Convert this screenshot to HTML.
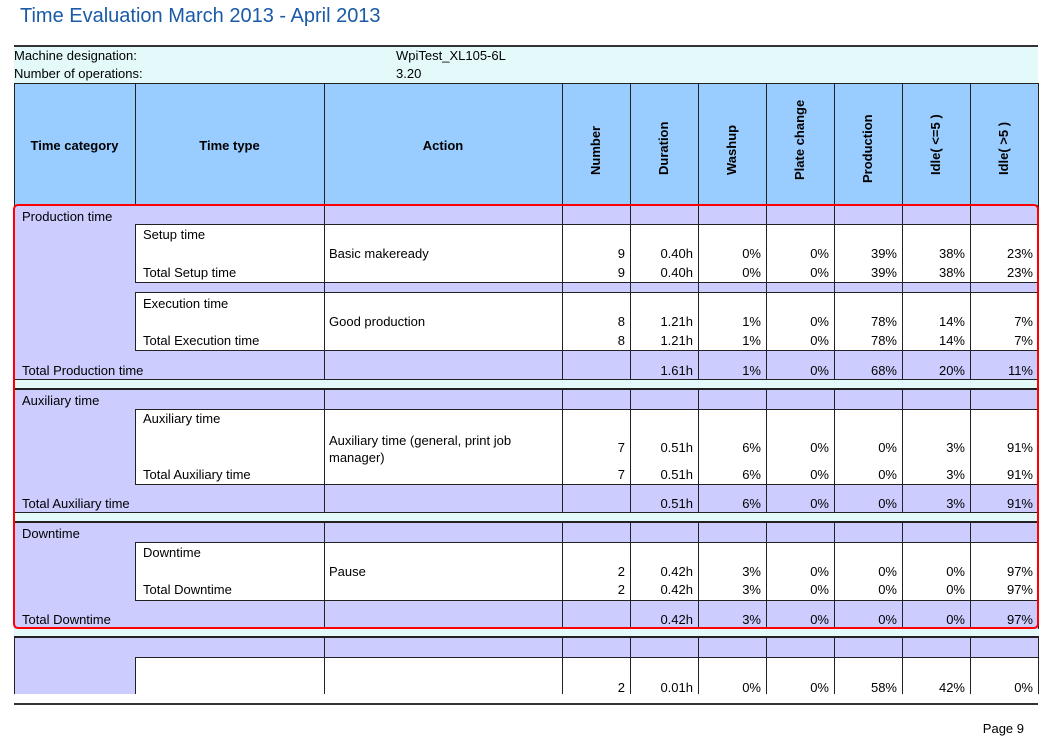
<!DOCTYPE html>
<html><head><meta charset="utf-8"><style>
body{margin:0;width:1051px;height:740px;background:#fff;position:relative;overflow:hidden;font-family:"Liberation Sans",Arial,sans-serif;font-size:13px;color:#000}
div,span{position:absolute;box-sizing:border-box}
.t{line-height:16px;white-space:nowrap;margin-top:1px}
.g{left:14px;width:1024px;background:#ccccff;border-top:1px solid #222}
.w{left:135px;width:903px;background:#fff;border:1px solid #222;border-right:none}
.v{width:1px;background:#222}
.gap{left:14px;width:1025px;background:#e4fafa}
.n{left:562px;width:476px;height:16px;line-height:16px;display:flex;margin-top:1px}
.n span{position:static;width:68px;text-align:right;padding-right:5px;box-sizing:border-box}
.h{font-weight:bold;writing-mode:vertical-rl;transform:rotate(180deg);line-height:16px;white-space:nowrap}
</style></head><body>
<div class="t" style="left:20px;top:3px;font-size:20px;line-height:24px;color:#1a5aa6">Time Evaluation March 2013 - April 2013</div>
<div style="left:14px;top:46px;width:1024px;height:650px;background:#e4fafa"></div>
<div style="left:14px;top:45px;width:1024px;height:2px;background:#333"></div>
<div class="t" style="left:14px;top:47px">Machine designation:</div>
<div class="t" style="left:396px;top:47px">WpiTest_XL105-6L</div>
<div class="t" style="left:14px;top:65px">Number of operations:</div>
<div class="t" style="left:396px;top:65px">3.20</div>
<!-- header -->
<div style="left:14px;top:83px;width:1025px;height:123px;background:#99ccff;border:1px solid #222;border-bottom:none"></div>
<div class="v" style="left:135px;top:84px;height:121px"></div>
<div class="t" style="left:14px;top:137px;width:121px;text-align:center;font-weight:bold">Time category</div>
<div class="t" style="left:135px;top:137px;width:189px;text-align:center;font-weight:bold">Time type</div>
<div class="t" style="left:324px;top:137px;width:238px;text-align:center;font-weight:bold">Action</div>
<!-- groups -->
<div class="g" style="top:205px;height:175px"></div>
<div class="g" style="top:389px;height:124px"></div>
<div class="g" style="top:522px;height:107px"></div>
<div class="g" style="top:637px;height:57px"></div>
<!-- white blocks -->
<div class="w" style="top:224px;height:59px"></div>
<div class="w" style="top:292px;height:59px"></div>
<div class="w" style="top:409px;height:76px"></div>
<div class="w" style="top:542px;height:59px"></div>
<div class="w" style="top:657px;height:38px;border-bottom:none"></div>
<!-- vertical lines -->
<div class="v" style="left:324px;top:84px;height:610px"></div>
<div class="v" style="left:562px;top:84px;height:610px"></div>
<div class="v" style="left:630px;top:84px;height:610px"></div>
<div class="v" style="left:698px;top:84px;height:610px"></div>
<div class="v" style="left:766px;top:84px;height:610px"></div>
<div class="v" style="left:834px;top:84px;height:610px"></div>
<div class="v" style="left:902px;top:84px;height:610px"></div>
<div class="v" style="left:970px;top:84px;height:610px"></div>
<div class="v" style="left:1038px;top:84px;height:610px"></div>
<div class="v" style="left:14px;top:637px;height:57px"></div>
<!-- gaps -->
<div class="gap" style="top:380px;height:9px"></div>
<div class="gap" style="top:513px;height:9px"></div>
<div class="gap" style="top:629px;height:8px"></div>
<div style="left:14px;top:379px;width:1024px;height:1px;background:#222"></div>
<div style="left:14px;top:512px;width:1024px;height:1px;background:#222"></div>
<div style="left:14px;top:388px;width:1024px;height:1px;background:#222"></div>
<div style="left:14px;top:521px;width:1024px;height:1px;background:#222"></div>
<div style="left:14px;top:636px;width:1025px;height:1px;background:#222"></div>
<!-- rotated headers -->
<div class="h" style="left:588px;top:115px;height:60px">Number</div>
<div class="h" style="left:656px;top:115px;height:60px">Duration</div>
<div class="h" style="left:724px;top:115px;height:60px">Washup</div>
<div class="h" style="left:792px;top:100px;height:80px">Plate change</div>
<div class="h" style="left:860px;top:105px;height:78px">Production</div>
<div class="h" style="left:928px;top:115px;height:60px">Idle( &lt;=5 )</div>
<div class="h" style="left:996px;top:115px;height:60px">Idle( &gt;5 )</div>
<!-- text -->
<div class="t" style="left:22px;top:208px">Production time</div>
<div class="t" style="left:143px;top:226px">Setup time</div>
<div class="t" style="left:329px;top:245px">Basic makeready</div>
<div class="n" style="top:245px"><span>9</span><span>0.40h</span><span>0%</span><span>0%</span><span>39%</span><span>38%</span><span>23%</span></div>
<div class="t" style="left:143px;top:264px">Total Setup time</div>
<div class="n" style="top:264px"><span>9</span><span>0.40h</span><span>0%</span><span>0%</span><span>39%</span><span>38%</span><span>23%</span></div>
<div class="t" style="left:143px;top:295px">Execution time</div>
<div class="t" style="left:329px;top:313px">Good production</div>
<div class="n" style="top:313px"><span>8</span><span>1.21h</span><span>1%</span><span>0%</span><span>78%</span><span>14%</span><span>7%</span></div>
<div class="t" style="left:143px;top:332px">Total Execution time</div>
<div class="n" style="top:332px"><span>8</span><span>1.21h</span><span>1%</span><span>0%</span><span>78%</span><span>14%</span><span>7%</span></div>
<div class="t" style="left:22px;top:362px">Total Production time</div>
<div class="n" style="top:362px"><span></span><span>1.61h</span><span>1%</span><span>0%</span><span>68%</span><span>20%</span><span>11%</span></div>

<div class="t" style="left:22px;top:392px">Auxiliary time</div>
<div class="t" style="left:143px;top:410px">Auxiliary time</div>
<div class="t" style="left:329px;top:432px">Auxiliary time (general, print job</div>
<div class="t" style="left:329px;top:449px">manager)</div>
<div class="n" style="top:439px"><span>7</span><span>0.51h</span><span>6%</span><span>0%</span><span>0%</span><span>3%</span><span>91%</span></div>
<div class="t" style="left:143px;top:466px">Total Auxiliary time</div>
<div class="n" style="top:466px"><span>7</span><span>0.51h</span><span>6%</span><span>0%</span><span>0%</span><span>3%</span><span>91%</span></div>
<div class="t" style="left:22px;top:495px">Total Auxiliary time</div>
<div class="n" style="top:495px"><span></span><span>0.51h</span><span>6%</span><span>0%</span><span>0%</span><span>3%</span><span>91%</span></div>

<div class="t" style="left:22px;top:525px">Downtime</div>
<div class="t" style="left:143px;top:544px">Downtime</div>
<div class="t" style="left:329px;top:563px">Pause</div>
<div class="n" style="top:563px"><span>2</span><span>0.42h</span><span>3%</span><span>0%</span><span>0%</span><span>0%</span><span>97%</span></div>
<div class="t" style="left:143px;top:581px">Total Downtime</div>
<div class="n" style="top:581px"><span>2</span><span>0.42h</span><span>3%</span><span>0%</span><span>0%</span><span>0%</span><span>97%</span></div>
<div class="t" style="left:22px;top:611px">Total Downtime</div>
<div class="n" style="top:611px"><span></span><span>0.42h</span><span>3%</span><span>0%</span><span>0%</span><span>0%</span><span>97%</span></div>

<div class="n" style="top:679px"><span>2</span><span>0.01h</span><span>0%</span><span>0%</span><span>58%</span><span>42%</span><span>0%</span></div>
<!-- red box -->
<div style="left:13px;top:204px;width:1026px;height:425px;border:2px solid #f00;border-radius:5px"></div>
<div style="left:0;top:694px;width:1051px;height:46px;background:#fff"></div>
<div style="left:14px;top:703px;width:1024px;height:2px;background:#333"></div>
<div class="t" style="left:960px;top:720px;width:64px;text-align:right">Page 9</div>
</body></html>
